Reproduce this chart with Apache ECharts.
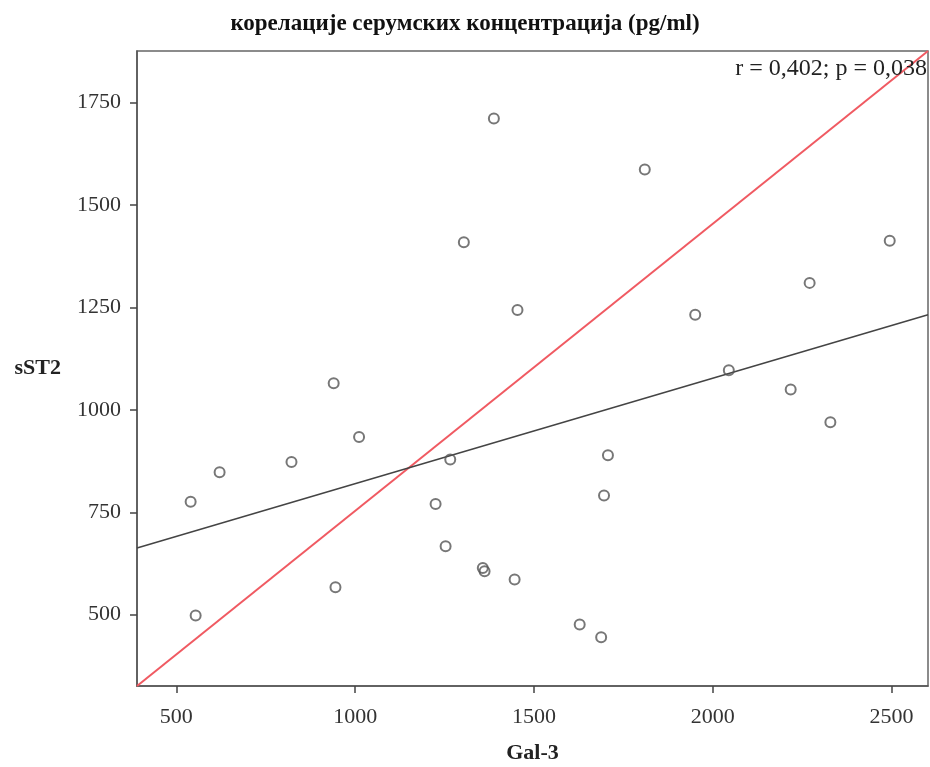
<!DOCTYPE html>
<html>
<head>
<meta charset="utf-8">
<script src="https://cdn.jsdelivr.net/npm/echarts@6/dist/echarts.min.js"></script>
<style>
  html, body { margin: 0; padding: 0; background: #fff; }
  #chart { width: 930px; height: 767px; }
</style>
</head>
<body>
<div id="chart"></div>
<script>
  // Gal-3 (x) / sST2 (y)
  var gal3 = [1388, 1304, 1454, 1810, 2495, 2271, 1951, 940, 1011, 822, 621, 540, 1266, 1225,
              1253, 1357, 1362, 1446, 945, 554, 2045, 2218, 2329, 1707, 1696, 1628, 1688]
  var sst2 = [1711, 1409, 1244, 1587, 1413, 1310, 1232, 1065, 934, 873, 848, 776, 879, 770,
              667, 614, 606, 586, 567, 498, 1097, 1050, 970, 889, 791, 476, 445]

  var xTicks = [500, 1000, 1500, 2000, 2500]
  var yTicks = [500, 750, 1000, 1250, 1500, 1750]
  var xRange = [390, 2602]
  var yRange = [326, 1876]
  var fitLine = [663, 1232]   // regression line, sST2 at both x ends
  var refLine = [326, 1876]   // red reference line, corner to corner

  var serif = '"Liberation Serif", "Times New Roman", serif'

  var points = gal3.map(function (x, i) { return [x, sst2[i]] })

  var myChart = echarts.init(document.getElementById('chart'))
  var option = {
    backgroundColor: '#fff',
    animation: false,
    title: {
      text: 'корелације серумских концентрација (pg/ml)',
      left: 'center',
      top: 8,
      textStyle: { fontFamily: serif, fontWeight: 'bold', fontSize: 23, color: '#111' }
    },
    grid: {
      left: 137, right: 2, top: 51, bottom: 81,
      show: true,
      borderColor: '#666',
      borderWidth: 1.5,
      containLabel: false,
      outerBoundsMode: 'none'
    },
    graphic: [{
      type: 'text',
      right: 3,
      top: 57,
      style: {
        text: 'r = 0,402; p = 0,038',
        font: '24px ' + serif,
        fill: '#222'
      },
      z: 10
    }],
    xAxis: {
      type: 'value',
      min: xRange[0],
      max: xRange[1],
      name: 'Gal-3',
      nameLocation: 'middle',
      nameGap: 56,
      nameTextStyle: { fontFamily: serif, fontWeight: 'bold', fontSize: 22, color: '#222' },
      axisLine: { show: true, lineStyle: { color: '#555', width: 1.5 } },
      axisTick: { show: true, length: 7, customValues: xTicks, lineStyle: { color: '#444', width: 1.5 } },
      axisLabel: {
        customValues: xTicks, fontFamily: serif, fontSize: 22, color: '#333', margin: 20,
        formatter: function (v) { return String(v) }
      },
      splitLine: { show: false }
    },
    yAxis: {
      type: 'value',
      min: yRange[0],
      max: yRange[1],
      name: 'sST2',
      nameLocation: 'middle',
      nameRotate: 0,
      nameGap: 76,
      nameTextStyle: { fontFamily: serif, fontWeight: 'bold', fontSize: 22, color: '#222' },
      axisLine: { show: true, lineStyle: { color: '#555', width: 1.5 } },
      axisTick: { show: true, length: 7, customValues: yTicks, lineStyle: { color: '#444', width: 1.5 } },
      axisLabel: {
        customValues: yTicks, fontFamily: serif, fontSize: 22, color: '#333', margin: 16,
        formatter: function (v) { return String(v) }
      },
      splitLine: { show: false }
    },
    series: [
      {
        type: 'line',
        data: [[xRange[0], refLine[0]], [xRange[1], refLine[1]]],
        showSymbol: false,
        silent: true,
        lineStyle: { color: '#f05a62', width: 2 },
        z: 2
      },
      {
        type: 'line',
        data: [[xRange[0], fitLine[0]], [xRange[1], fitLine[1]]],
        showSymbol: false,
        silent: true,
        lineStyle: { color: '#444', width: 1.5 },
        z: 2
      },
      {
        type: 'scatter',
        data: points,
        symbol: 'circle',
        symbolSize: 10,
        itemStyle: { color: 'rgba(255,255,255,0)', borderColor: '#555', borderWidth: 2 },
        z: 3
      }
    ]
  }
  myChart.setOption(option)
</script>
</body>
</html>
